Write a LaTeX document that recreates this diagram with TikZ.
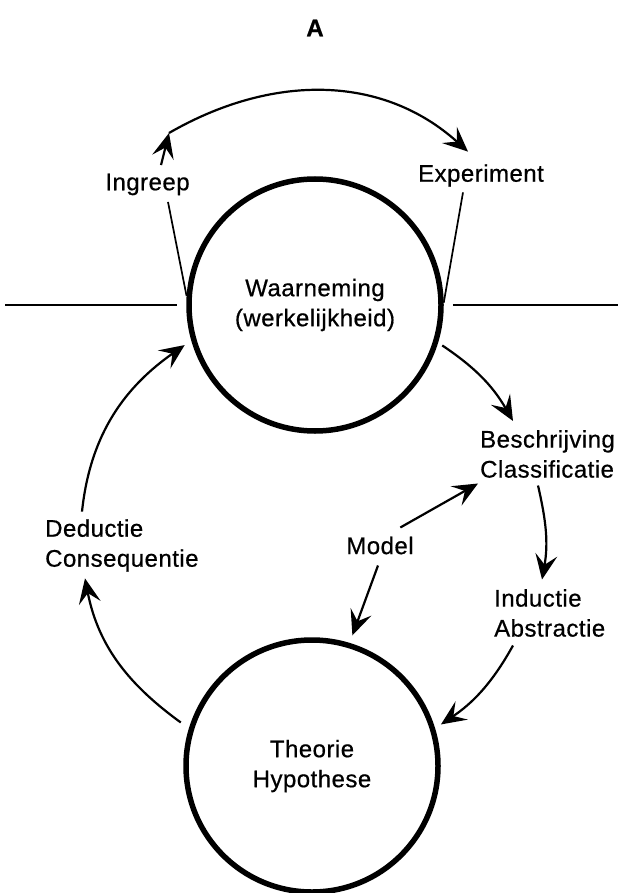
\documentclass[tikz,border=0pt]{standalone}
\usepackage{fontspec}
\setmainfont{Liberation Sans}[LetterSpace=2, FakeBold=0.6]
\usepackage{tikz}
\usetikzlibrary{arrows.meta}
\tikzstyle{state} = [circle, draw, line width=5.5pt, minimum size=252pt, inner sep=0pt, align=center]
\tikzstyle{txt} = [inner sep=0pt]
\tikzstyle{line} = [draw, line width=2.2pt, -{Stealth[length=25pt,width=22pt,inset=10pt]}]
\tikzstyle{rule} = [draw, line width=1.7pt]

\begin{document}
\begin{tikzpicture}[x=1pt, y=1pt, font=\fontsize{24}{30}\selectfont]
    \useasboundingbox (0,0) rectangle (623,-893);
    \node [txt, font=\fontsize{24}{30}\selectfont\bfseries] (title) at (315,-28) {A};
    \node [state] (waarn) at (315,-305) {Waarneming\\(werkelijkheid)};
    \node [state] (theo) at (312,-766) {Theorie\\Hypothese};
    \node [txt] (ingr) at (147.5,-184.5) {Ingreep};
    \node [txt] (exper) at (481,-175.5) {Experiment};
    \node [txt, anchor=west, align=left] (besch) at (480,-454) {Beschrijving\\Classificatie};
    \node [txt, anchor=west, align=left] (induct) at (494,-613) {Inductie\\Abstractie};
    \node [txt] (model) at (380,-545.5) {Model};
    \node [txt, anchor=west, align=left] (deduct) at (45,-545.5) {Deductie\\Consequentie};
    \coordinate (bend) at (169,-133);
    \coordinate (horizL) at (5,-305);
    \coordinate (horizR) at (618,-305);

    \path [rule] (horizL) -- ([xshift=-9pt]waarn.west);
    \path [rule] ([xshift=9pt]waarn.east) -- (horizR);
    \path [rule] ([xshift=20.5pt,yshift=-6.5pt]ingr.south) -- (waarn.176);
    \path [rule] ([xshift=-18pt,yshift=-5.5pt]exper.south) -- (waarn.1);

    \path [line] ([xshift=13.5pt,yshift=8.5pt]ingr.north) -- (bend);
    \path [line] (bend) to[out=30, in=138] ([xshift=-13pt,yshift=12.5pt]exper.north);
    \path [line, shorten <=5pt] (waarn.-17) to[out=-34, in=120] ([xshift=33pt,yshift=9pt]besch.north west);
    \path [line] ([xshift=58pt,yshift=-7.5pt]besch.south west) to[out=-77, in=80] ([xshift=48pt,yshift=9.5pt]induct.north west);
    \path [line] ([xshift=-13.5pt,yshift=9pt]model.north east) -- ([xshift=-2pt,yshift=-5.5pt]besch.south west);
    \path [line, shorten >=8pt] ([xshift=-2pt,yshift=-11pt]model.south) -- (theo.73);
    \path [line, shorten >=7pt] ([xshift=19pt,yshift=-8.5pt]induct.south west) to[out=-119, in=34] (theo.17);
    \path [line, shorten <=10pt] (theo.163) to[out=144, in=-79] ([xshift=40pt,yshift=-6.5pt]deduct.south west);
    \path [line, shorten >=8pt] ([xshift=37pt,yshift=7.5pt]deduct.north west) to[out=84, in=-145] (waarn.196);
\end{tikzpicture}
\end{document}
